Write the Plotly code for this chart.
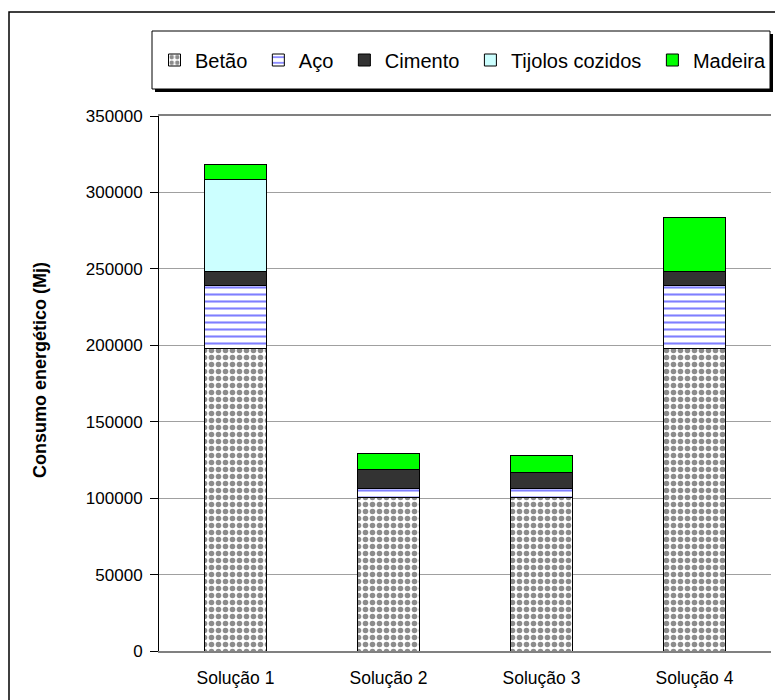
import plotly.graph_objects as go

categories = ["Solução 1", "Solução 2", "Solução 3", "Solução 4"]
betao = [198000, 100500, 100500, 198000]
aco = [41000, 6000, 6000, 41000]
cimento = [9500, 12000, 10500, 9500]
tijolos = [60000, None, None, None]
madeira = [9500, 11000, 11000, 35000]
y_ticks = [0, 50000, 100000, 150000, 200000, 250000, 300000, 350000]
series_names = ["Betão", "Aço", "Cimento", "Tijolos cozidos", "Madeira"]

W, H = 775, 700
L, R, T, B = 159, 4, 116, 49
PW, PH = W - L - R, H - T - B


def px(x):
    return (x - L) / PW


def py(y):
    return (H - B - y) / PH


FONT = "Liberation Sans, Arial, sans-serif"
line = dict(color="black", width=1)
NB = "\u00a0"

fig = go.Figure()
fig.add_bar(name=series_names[0] + NB, x=categories, y=betao,
            marker=dict(color="white", line=line,
                        pattern=dict(shape=".", fgcolor="#1a1a1a", bgcolor="white",
                                     size=7, solidity=0.5)))
fig.add_bar(name=series_names[1] + NB, x=categories, y=aco,
            marker=dict(color="white", line=line,
                        pattern=dict(shape="-", fgcolor="#0000ff", bgcolor="white",
                                     size=7, solidity=0.3)))
fig.add_bar(name=series_names[2] + NB, x=categories, y=cimento,
            marker=dict(color="#333333", line=line))
fig.add_bar(name=series_names[3] + NB, x=categories, y=tijolos,
            marker=dict(color="#CCFFFF", line=line))
fig.add_bar(name=series_names[4], x=categories, y=madeira,
            marker=dict(color="#00FF00", line=line))

shapes = [
    # outer chart border
    dict(type="rect", xref="paper", yref="paper", x0=px(9), x1=px(779), y0=py(704), y1=py(12),
         line=dict(color="black", width=1.5), layer="below"),
    # legend shadow
    dict(type="rect", xref="paper", yref="paper", x0=px(155), x1=px(773), y0=py(92), y1=py(34),
         fillcolor="black", line=dict(width=0), layer="below"),
    # legend box
    dict(type="rect", xref="paper", yref="paper", x0=px(152), x1=px(770), y0=py(89), y1=py(31),
         fillcolor="white", line=dict(color="black", width=1), layer="below"),
]

fig.update_layout(
    width=W, height=H,
    margin=dict(l=L, r=R, t=T, b=B, pad=0),
    barmode="stack",
    bargap=0.6,
    paper_bgcolor="white",
    plot_bgcolor="white",
    font=dict(family=FONT, size=17, color="black"),
    showlegend=True,
    legend=dict(orientation="h", x=px(154), y=py(60), xanchor="left", yanchor="middle",
                bgcolor="rgba(0,0,0,0)", borderwidth=0, traceorder="normal",
                itemwidth=31,
                font=dict(size=20, family=FONT)),
    shapes=shapes,
    annotations=[dict(text="<b>Consumo energético (Mj)</b>", xref="paper", yref="paper",
                      x=px(40), y=py(370), textangle=-90, showarrow=False,
                      font=dict(size=18, family=FONT), xanchor="center", yanchor="middle")],
    xaxis=dict(showline=True, linecolor="#808080", linewidth=1.5, mirror=True,
               ticks="", showgrid=False, ticklabelstandoff=10,
               tickfont=dict(size=17.5)),
    yaxis=dict(range=[0, 350000], tickvals=y_ticks, ticktext=[str(v) for v in y_ticks],
               showline=True, linecolor="black", linewidth=1, mirror=False,
               ticks="outside", ticklen=8, tickcolor="black",
               showgrid=True, gridcolor="#a0a0a0", gridwidth=1,
               zeroline=False, ticklabelstandoff=4, tickfont=dict(size=17)),
)

fig.write_html("out.html")
